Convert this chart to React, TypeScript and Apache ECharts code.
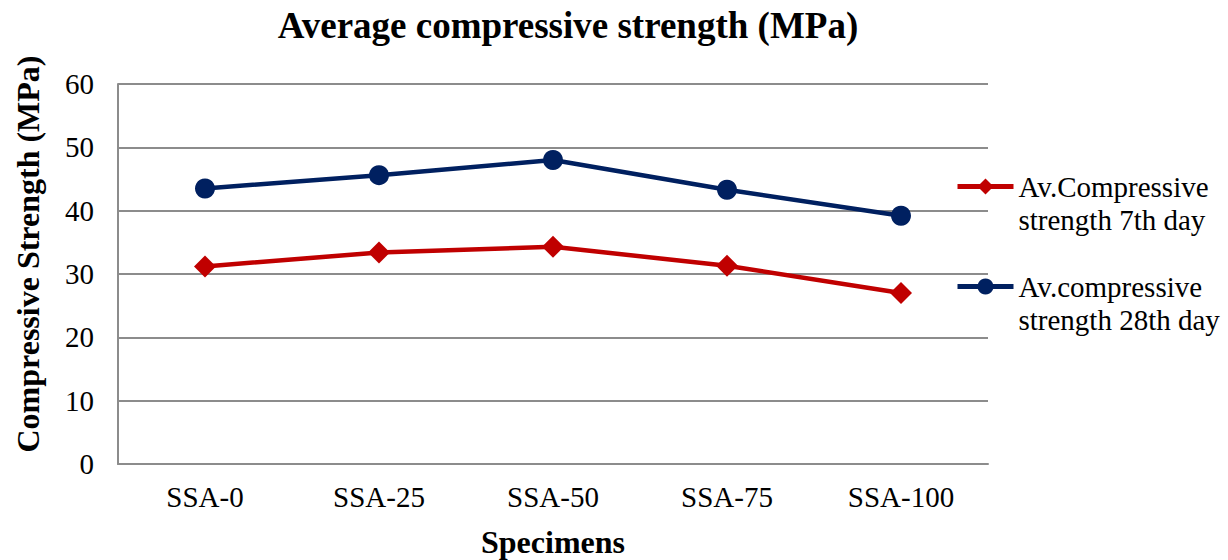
import React, { useEffect, useRef } from "react";
import * as echarts from "echarts";

const categories = ["SSA-0", "SSA-25", "SSA-50", "SSA-75", "SSA-100"];
const day7 = [31.2, 33.4, 34.3, 31.3, 27.0];
const day28 = [43.5, 45.6, 48.0, 43.3, 39.2];
const seriesNames = ["Av.Compressive\nstrength 7th day", "Av.compressive\nstrength 28th day"];

const FONT = "'Liberation Serif', 'Times New Roman', serif";

export default function App() {
  const ref = useRef<HTMLDivElement>(null);
  useEffect(() => {
    if (!ref.current) return;
    const chart = echarts.init(ref.current, undefined, { renderer: "svg" });
    chart.setOption({
      animation: false,
      backgroundColor: "#ffffff",
      title: {
        text: "Average compressive strength (MPa)",
        left: 563,
        textAlign: "center",
        top: 2,
        textStyle: { fontFamily: FONT, fontSize: 37, fontWeight: "bold", color: "#000" },
      },
      grid: { left: 118, top: 84, width: 870, height: 380, outerBoundsMode: "none" },
      legend: {
        orient: "vertical",
        left: 955,
        top: 137,
        padding: 0,
        itemWidth: 56,
        itemHeight: 20,
        itemGap: 1,
        data: seriesNames,
        formatter: (name: string) => "\n" + name,
        lineStyle: { width: 5 },
        textStyle: {
          fontFamily: FONT,
          fontSize: 29,
          color: "#000",
          lineHeight: 33,
        },
      },
      xAxis: {
        type: "category",
        data: categories,
        boundaryGap: true,
        name: "Specimens",
        nameLocation: "middle",
        nameGap: 62,
        nameTextStyle: { fontFamily: FONT, fontSize: 32, fontWeight: "bold", color: "#000" },
        axisLine: { lineStyle: { color: "#8c8c8c", width: 2 } },
        axisTick: { show: false },
        axisLabel: { fontFamily: FONT, fontSize: 29, color: "#000", margin: 18 },
      },
      yAxis: {
        type: "value",
        min: 0,
        max: 60,
        interval: 10,
        name: "Compressive Strength (MPa)",
        nameLocation: "middle",
        nameGap: 74,
        nameTextStyle: {
          fontFamily: FONT,
          fontSize: 32,
          fontWeight: "bold",
          color: "#000",
          padding: [0, 0, 0, 40],
        },
        axisLine: { show: true, lineStyle: { color: "#8c8c8c", width: 2 } },
        axisTick: { show: false },
        splitLine: { lineStyle: { color: "#8c8c8c", width: 2 } },
        axisLabel: { fontFamily: FONT, fontSize: 29, color: "#000", margin: 24 },
      },
      series: [
        {
          name: seriesNames[0],
          type: "line",
          data: day7,
          symbol: "diamond",
          symbolSize: 22,
          itemStyle: { color: "#C00000" },
          lineStyle: { color: "#C00000", width: 4.5 },
        },
        {
          name: seriesNames[1],
          type: "line",
          data: day28,
          symbol: "circle",
          symbolSize: 20,
          itemStyle: { color: "#002060" },
          lineStyle: { color: "#002060", width: 4.5 },
        },
      ],
    });
    return () => chart.dispose();
  }, []);
  return (
    <div
      ref={ref}
      style={{ position: "fixed", left: 0, top: 0, width: 1228, height: 560, background: "#fff" }}
    />
  );
}
